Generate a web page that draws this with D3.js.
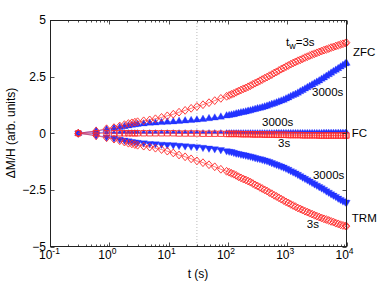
<!DOCTYPE html>
<html><head><meta charset="utf-8">
<script src="https://cdn.jsdelivr.net/npm/d3@7"></script>
<style>body{margin:0;background:#fff}svg{display:block}text{font-family:"Liberation Sans",Arial,sans-serif;fill:#000}</style>
</head><body><svg id="c" width="382" height="288"></svg>
<script>
const times = [0.3,0.6,0.9,1.2,1.5,1.8,2.1,2.4,2.7,3.0,
  3.8,4.8,6,7.6,9.5,12,15,19,24,30,38,48,60,76,95,
  105,115,126,138,151,166,182,200,219,240,
  263,288,316,347,380,417,457,501,550,603,
  661,724,794,871,955,1047,1148,1259,1380,1514,
  1660,1820,1995,2188,2399,2630,2884,3162,3467,3802,
  4169,4571,5012,5495,6026,6607,7244,7943,8710,9550,10000];
const zfc3 = [0,0.1,0.2,0.25,0.32,0.38,0.43,0.46,0.49,0.51,
  0.55,0.59,0.64,0.7,0.77,0.84,0.93,1.01,1.1,1.18,1.26,1.35,1.44,1.54,1.63,
  1.67,1.72,1.76,1.81,1.86,1.91,1.96,2.0,2.05,2.1,
  2.16,2.21,2.26,2.32,2.37,2.43,2.48,2.54,2.59,2.66,
  2.71,2.77,2.83,2.88,2.94,2.99,3.05,3.1,3.15,3.2,
  3.24,3.29,3.34,3.38,3.43,3.47,3.51,3.55,3.59,3.63,
  3.67,3.7,3.74,3.78,3.81,3.85,3.88,3.92,3.95,3.98,4.0];
const zfc3000 = [0,0.1,0.17,0.22,0.26,0.3,0.33,0.36,0.38,0.4,
  0.42,0.45,0.46,0.48,0.5,0.51,0.53,0.55,0.57,0.59,0.62,0.65,0.68,0.72,0.77,
  0.79,0.81,0.83,0.86,0.88,0.91,0.93,0.95,0.98,1.0,
  1.03,1.06,1.09,1.11,1.14,1.17,1.2,1.24,1.28,1.31,
  1.35,1.39,1.43,1.47,1.52,1.57,1.63,1.68,1.72,1.78,
  1.84,1.9,1.96,2.02,2.08,2.14,2.2,2.26,2.32,2.39,
  2.45,2.52,2.59,2.66,2.73,2.79,2.86,2.93,3.0,3.07,3.1];
const fc3000 = [0,0.02,0.03,0.04,0.04,0.05,0.05,0.05,0.05,0.05,
  0.05,0.05,0.05,0.05,0.05,0.05,0.05,0.05,0.05,0.05,0.05,0.05,0.05,0.05,0.05,
  0.05,0.05,0.05,0.05,0.05,0.05,0.05,0.05,0.05,0.05,
  0.05,0.05,0.05,0.05,0.05,0.05,0.05,0.05,0.05,0.05,
  0.06,0.06,0.06,0.06,0.06,0.06,0.06,0.06,0.06,0.06,
  0.06,0.06,0.06,0.06,0.06,0.06,0.06,0.06,0.06,0.06,
  0.07,0.07,0.07,0.07,0.07,0.07,0.07,0.07,0.07,0.07,0.07];
const fc3 = [0,0,0,0,0,0,0,0,0,0,
  0,0,0,0,0,0,-0.01,-0.01,-0.01,-0.01,-0.02,-0.02,-0.02,-0.02,-0.03,
  -0.03,-0.03,-0.03,-0.03,-0.03,-0.04,-0.04,-0.04,-0.04,-0.04,
  -0.05,-0.05,-0.05,-0.05,-0.05,-0.06,-0.06,-0.06,-0.06,-0.06,
  -0.07,-0.07,-0.07,-0.07,-0.07,-0.08,-0.08,-0.08,-0.08,-0.08,
  -0.08,-0.09,-0.09,-0.09,-0.09,-0.09,-0.09,-0.09,-0.1,-0.1,
  -0.1,-0.1,-0.1,-0.1,-0.1,-0.1,-0.1,-0.1,-0.1,-0.1,-0.1];
const trm3000 = [0,-0.1,-0.17,-0.22,-0.27,-0.31,-0.34,-0.37,-0.39,-0.41,
  -0.43,-0.46,-0.47,-0.49,-0.51,-0.52,-0.54,-0.56,-0.58,-0.6,-0.63,-0.66,-0.69,-0.73,-0.78,
  -0.8,-0.82,-0.85,-0.88,-0.9,-0.93,-0.95,-0.97,-1.0,-1.02,
  -1.05,-1.08,-1.11,-1.13,-1.16,-1.19,-1.22,-1.26,-1.3,-1.34,
  -1.38,-1.42,-1.46,-1.5,-1.55,-1.6,-1.66,-1.71,-1.76,-1.82,
  -1.88,-1.94,-2.0,-2.06,-2.12,-2.18,-2.24,-2.3,-2.36,-2.42,
  -2.48,-2.55,-2.61,-2.68,-2.74,-2.8,-2.87,-2.93,-2.99,-3.04,-3.06];
const trm3 = [0,-0.11,-0.2,-0.26,-0.33,-0.39,-0.44,-0.47,-0.5,-0.53,
  -0.57,-0.61,-0.66,-0.72,-0.79,-0.87,-0.96,-1.04,-1.13,-1.22,-1.3,-1.39,-1.48,-1.59,-1.68,
  -1.72,-1.77,-1.81,-1.86,-1.92,-1.97,-2.02,-2.06,-2.11,-2.16,
  -2.22,-2.28,-2.33,-2.39,-2.44,-2.5,-2.55,-2.62,-2.67,-2.74,
  -2.79,-2.85,-2.91,-2.97,-3.03,-3.08,-3.14,-3.19,-3.24,-3.3,
  -3.34,-3.39,-3.44,-3.48,-3.53,-3.57,-3.62,-3.66,-3.7,-3.74,
  -3.78,-3.81,-3.85,-3.89,-3.92,-3.97,-4.0,-4.04,-4.07,-4.09,-4.1];
const xTickValues = [0.1,1,10,100,1000,10000];
const xTickExps = ["-1","0","1","2","3","4"];
const yTickValues = [-5,-2.5,0,2.5,5];
const yTickLabels = ["\u22125","\u22122.5","0","2.5","5"];
const labels = [
  {text:"ZFC", t:12900, v:3.42},
  {text:"3000s", t:2620, v:1.64},
  {text:"3000s", t:376, v:0.31},
  {text:"FC", t:12300, v:-0.18},
  {text:"3s", t:700, v:-0.6},
  {text:"3000s", t:2720, v:-2.0},
  {text:"TRM", t:12300, v:-3.94},
  {text:"3s", t:2140, v:-4.2}
];
const twLabel = {t:955, v:3.85};
const RED = "#ff2a2a", BLUE = "#2233ff";

const svg = d3.select("#c");
const x = d3.scaleLog().domain([0.1,10000]).range([50,346.5]);
const y = d3.scaleLinear().domain([-5,5]).range([246.5,20]);

svg.append("line").attr("x1",x(30)).attr("x2",x(30)).attr("y1",20).attr("y2",246.5)
  .attr("stroke","#aaa").attr("stroke-width",0.8).attr("stroke-dasharray","1,2");

const tw = (arr)=>times.map((t,i)=>({t, v:arr[i]}));
const line = d3.line().x(d=>x(d.t)).y(d=>y(d.v));
function series(arr, color, shape, filled, sw){
  const g = svg.append("g");
  g.append("path").attr("d", line(tw(arr))).attr("fill","none").attr("stroke",color).attr("stroke-width",0.6);
  g.selectAll("path.m").data(tw(arr)).join("path").attr("class","m")
    .attr("transform", d=>`translate(${x(d.t)},${y(d.v)})`)
    .attr("d", shape)
    .attr("fill", filled ? color : "none")
    .attr("stroke", color).attr("stroke-width", sw);
}
const diamond = "M0,-3.9L3.3,0L0,3.9L-3.3,0Z";
const square = "M-2.7,-2.7H2.7V2.7H-2.7Z";
const triU = "M0,-4.2L3.7,2.2L-3.7,2.2Z";
const triD = "M0,4.2L3.7,-2.2L-3.7,-2.2Z";
const triS = "M0,-2.6L2.4,1.4L-2.4,1.4Z";

series(zfc3000, BLUE, triU, true, 0.3);
series(fc3000, BLUE, triS, true, 0.3);
series(trm3000, BLUE, triD, true, 0.3);
series(zfc3, RED, diamond, false, 0.9);
series(fc3, RED, square, false, 0.9);
series(trm3, RED, diamond, false, 0.9);

const ax = svg.append("g").attr("stroke","#222").attr("fill","none").attr("stroke-width",1);
ax.append("rect").attr("x",50.5).attr("y",20.5).attr("width",296).attr("height",226);

const minor = [];
for (let e=-1;e<4;e++) for (let k=2;k<10;k++) minor.push(k*Math.pow(10,e));
const xg = svg.append("g").attr("stroke","#222").attr("stroke-width",0.8);
xTickValues.forEach(v=>{
  const px = Math.round(x(v))+0.5;
  xg.append("line").attr("x1",px).attr("x2",px).attr("y1",246.5).attr("y2",242.5);
  xg.append("line").attr("x1",px).attr("x2",px).attr("y1",20.5).attr("y2",24.5);
});
minor.forEach(v=>{
  const px = Math.round(x(v))+0.5;
  xg.append("line").attr("x1",px).attr("x2",px).attr("y1",246.5).attr("y2",244.5);
  xg.append("line").attr("x1",px).attr("x2",px).attr("y1",20.5).attr("y2",22.5);
});
yTickValues.forEach(v=>{
  const py = Math.round(y(v))+0.5;
  xg.append("line").attr("x1",50.5).attr("x2",54.5).attr("y1",py).attr("y2",py);
  xg.append("line").attr("x1",346.5).attr("x2",342.5).attr("y1",py).attr("y2",py);
});

xTickValues.forEach((v,i)=>{
  const t = svg.append("text").attr("x",x(v)-11).attr("y",259).attr("text-anchor","start").attr("font-size",12);
  t.append("tspan").text("10");
  t.append("tspan").attr("dy",-5).attr("font-size",8.5).text(xTickExps[i]);
});
yTickValues.forEach((v,i)=>{
  svg.append("text").attr("x",46).attr("y",y(v)+4.3).attr("text-anchor","end").attr("font-size",12).text(yTickLabels[i]);
});
svg.append("text").attr("x",198).attr("y",278).attr("text-anchor","middle").attr("font-size",12).text("t (s)");
svg.append("text").attr("transform","translate(15,133) rotate(-90)").attr("text-anchor","middle").attr("font-size",12).text("\u0394M/H (arb. units)");

const tl = svg.append("text").attr("x",x(twLabel.t)).attr("y",y(twLabel.v)).attr("font-size",11.5);
tl.append("tspan").text("t");
tl.append("tspan").attr("dy",3).attr("font-size",9).text("w");
tl.append("tspan").attr("dy",-3).text("=3s");
labels.forEach(l=>{
  svg.append("text").attr("x",x(l.t)).attr("y",y(l.v)).attr("font-size",11.5).text(l.text);
});
</script></body></html>
